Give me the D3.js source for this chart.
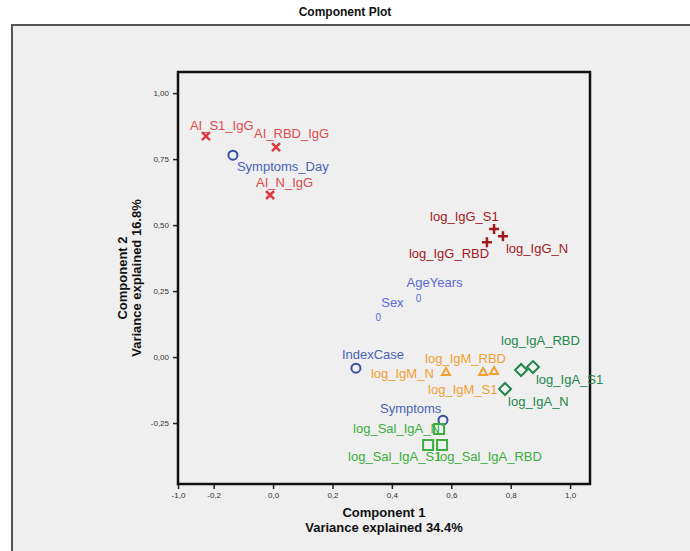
<!DOCTYPE html>
<html>
<head>
  <meta charset="utf-8">
  <title>Component Plot</title>
  <script src="https://cdn.jsdelivr.net/npm/d3@7/dist/d3.min.js"></script>
  <style>
    body { margin: 0; background: #fff; }
    svg { font-family: "Liberation Sans", Arial, sans-serif; }
    .tick text { font-size: 8px; fill: #333; }
    .lbl { font-size: 13px; }
    .ttl { font-weight: bold; fill: #111; }
  </style>
</head>
<body>
<svg id="chart"></svg>
<script>
// loadings
var names = ['AI_S1_IgG', 'AI_RBD_IgG', 'AI_N_IgG', 'Symptoms_Day',
  'log_IgG_S1', 'log_IgG_N', 'log_IgG_RBD', 'AgeYears', 'Sex', 'IndexCase',
  'log_IgM_N', 'log_IgM_RBD', 'log_IgM_S1', 'log_IgA_RBD', 'log_IgA_S1', 'log_IgA_N',
  'Symptoms', 'log_Sal_IgA_N', 'log_Sal_IgA_S1', 'log_Sal_IgA_RBD'];
var comp1 = [-0.226, 0.010, -0.010, -0.135,
  0.744, 0.774, 0.720, 0.490, 0.354, 0.279,
  0.582, 0.707, 0.744, 0.835, 0.875, 0.781,
  0.572, 0.559, 0.522, 0.569];
var comp2 = [0.837, 0.795, 0.614, 0.765,
  0.485, 0.458, 0.435, 0.220, 0.148, -0.042,
  -0.057, -0.057, -0.053, -0.049, -0.038, -0.121,
  -0.239, -0.273, -0.333, -0.333];
var groups = ['AI', 'AI', 'AI', 'clin',
  'IgG', 'IgG', 'IgG', 'demo', 'demo', 'clin',
  'IgM', 'IgM', 'IgM', 'IgA', 'IgA', 'IgA',
  'clin', 'Sal', 'Sal', 'Sal'];

var xTicks = [-0.32, -0.2, 0, 0.2, 0.4, 0.6, 0.8, 1.0];
var xTickLabels = ['-1,0', '-0,2', '0,0', '0,2', '0,4', '0,6', '0,8', '1,0'];
var yTicks = [1.0, 0.75, 0.5, 0.25, 0, -0.25];
var yTickLabels = ['1,00', '0,75', '0,50', '0,25', '0,00', '-0,25'];

// label offsets from marker (px): [dx to text start, dy to text middle]
var labelPos = {
  AI_S1_IgG: [-16, -11], AI_RBD_IgG: [-22, -14], AI_N_IgG: [-14, -12], Symptoms_Day: [4, 11],
  log_IgG_S1: [-64, -13], log_IgG_N: [3, 12], log_IgG_RBD: [-78, 11],
  AgeYears: [-12, -16], Sex: [3, -15], IndexCase: [-14, -14],
  log_IgM_N: [-75, 1], log_IgM_RBD: [-58, -14], log_IgM_S1: [-66, 18],
  log_IgA_RBD: [-20, -29], log_IgA_S1: [3, 12], log_IgA_N: [3, 13],
  Symptoms: [-63, -12], log_Sal_IgA_N: [-86, -1], log_Sal_IgA_S1: [-80, 12], log_Sal_IgA_RBD: [-5, 12]
};

var style = {
  AI:   { color: '#dc3c40', label: '#dc4a4c', shape: 'x' },
  clin: { color: '#3550a5', label: '#4a62b8', shape: 'circle' },
  demo: { color: '#5a6ad6', label: '#5a6ad6', shape: 'zero' },
  IgG:  { color: '#a01a1e', label: '#a01a1e', shape: 'plus' },
  IgM:  { color: '#f0a030', label: '#f0a030', shape: 'triangle' },
  IgA:  { color: '#23874a', label: '#23874a', shape: 'diamond' },
  Sal:  { color: '#3cae3c', label: '#3cae3c', shape: 'square' }
};

var width = 690, height = 551;
var plotL = 178, plotR = 590, plotT = 72, plotB = 484;

var svg = d3.select('#chart')
  .attr('width', width)
  .attr('height', height);

// grey panel
svg.append('rect')
  .attr('x', 12).attr('y', 25)
  .attr('width', width).attr('height', height)
  .attr('fill', '#efefef')
  .attr('stroke', '#555').attr('stroke-width', 2);

svg.append('text')
  .attr('class', 'ttl')
  .attr('x', 345).attr('y', 16)
  .attr('text-anchor', 'middle')
  .attr('font-size', 12)
  .text('Component Plot');

var x = d3.scaleLinear().domain([-0.32, 1.067]).range([plotL, plotR]);
var y = d3.scaleLinear().domain([-0.481, 1.08]).range([plotB, plotT]);

svg.append('g')
  .attr('transform', 'translate(0,' + plotB + ')')
  .call(d3.axisBottom(x).tickValues(xTicks).tickSize(5).tickPadding(3)
    .tickFormat((d, i) => xTickLabels[i]))
  .call(g => g.select('.domain').remove())
  .call(g => g.selectAll('.tick line').attr('stroke', '#222').attr('stroke-width', 1.5));

svg.append('g')
  .attr('transform', 'translate(' + plotL + ',0)')
  .call(d3.axisLeft(y).tickValues(yTicks).tickSize(5).tickPadding(4)
    .tickFormat((d, i) => yTickLabels[i]))
  .call(g => g.select('.domain').remove())
  .call(g => g.selectAll('.tick line').attr('stroke', '#222').attr('stroke-width', 1.5));

// plot frame
svg.append('rect')
  .attr('x', plotL).attr('y', plotT)
  .attr('width', plotR - plotL).attr('height', plotB - plotT)
  .attr('fill', 'none')
  .attr('stroke', '#111').attr('stroke-width', 2.5);

// axis titles
var xt = svg.append('text').attr('class', 'ttl')
  .attr('text-anchor', 'middle').attr('font-size', 13);
xt.append('tspan').attr('x', (plotL + plotR) / 2).attr('y', 517).text('Component 1');
xt.append('tspan').attr('x', (plotL + plotR) / 2).attr('y', 532).text('Variance explained 34.4%');

var yt = svg.append('text').attr('class', 'ttl')
  .attr('text-anchor', 'middle').attr('font-size', 13)
  .attr('transform', 'translate(0,' + (plotT + plotB) / 2 + ') rotate(-90)');
yt.append('tspan').attr('x', 0).attr('y', 127).text('Component 2');
yt.append('tspan').attr('x', 0).attr('y', 141).text('Variance explained 16.8%');

function markerPath(shape) {
  switch (shape) {
    case 'x': return 'M-4,-4L4,4M-4,4L4,-4';
    case 'plus': return 'M-5,0L5,0M0,-5L0,5';
    case 'circle': return 'M4.5,0A4.5,4.5 0 1 1 -4.5,0A4.5,4.5 0 1 1 4.5,0';
    case 'triangle': return 'M0,-4L4,3L-4,3Z';
    case 'diamond': return 'M0,-6L6,0L0,6L-6,0Z';
    case 'square': return 'M-5,-5L5,-5L5,5L-5,5Z';
  }
  return null;
}

var pts = svg.append('g').selectAll('g.pt')
  .data(names)
  .enter()
  .append('g')
  .attr('class', 'pt')
  .attr('transform', (d, i) => 'translate(' + x(comp1[i]) + ',' + y(comp2[i]) + ')');

pts.each(function (d, i) {
  var st = style[groups[i]];
  var g = d3.select(this);
  if (st.shape === 'zero') {
    g.append('text')
      .attr('text-anchor', 'middle')
      .attr('dominant-baseline', 'central')
      .attr('font-size', 10)
      .attr('fill', st.color)
      .text('0');
  } else {
    g.append('path')
      .attr('d', markerPath(st.shape))
      .attr('fill', 'none')
      .attr('stroke', st.color)
      .attr('stroke-width', st.shape === 'plus' || st.shape === 'x' ? 2.5 : 2);
  }
  var p = labelPos[d];
  g.append('text')
    .attr('class', 'lbl')
    .attr('x', p[0]).attr('y', p[1])
    .attr('dominant-baseline', 'central')
    .attr('fill', st.label)
    .text(d);
});
</script>
</body>
</html>
